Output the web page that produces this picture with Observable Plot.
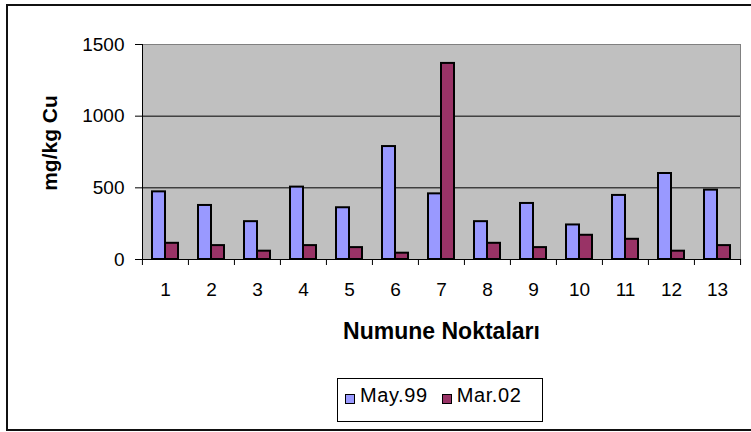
<!DOCTYPE html>
<html>
<head>
<meta charset="utf-8">
<script src="https://cdn.jsdelivr.net/npm/d3@7"></script>
<script src="https://cdn.jsdelivr.net/npm/@observablehq/plot@0.6"></script>
<style>
  html, body { margin: 0; padding: 0; background: #fff; }
  body { width: 751px; height: 432px; overflow: hidden; position: relative; font-family: "Liberation Sans", Arial, sans-serif; }
  #box { position: absolute; left: 6px; top: 4px; width: 780px; height: 423px; border: 2px solid #111; }
  #chart svg { display: block; }
  #legend { margin-left: 329px; margin-top: 18px; width: 206px; height: 44px; box-sizing: border-box; border: 1px solid #000; background: #fff;
            display: flex; align-items: flex-start; padding: 5px 0 0 7px; font-size: 20px; line-height: 22px; letter-spacing: 0.6px; color: #000; }
  .item { display: flex; align-items: flex-start; margin-right: 14px; }
  .sw { width: 10px; height: 10px; box-sizing: border-box; border: 1px solid #000; margin-top: 10px; margin-right: 5px; }
</style>
</head>
<body>
<div id="box">
  <div id="chart"></div>
  <div id="legend"></div>
</div>
<script>
const categories = ["1","2","3","4","5","6","7","8","9","10","11","12","13"];
const seriesNames = ["May.99", "Mar.02"];
const may99 = [472, 377, 264, 505, 361, 788, 458, 264, 391, 241, 447, 600, 484];
const mar02 = [113, 97, 58, 97, 83, 44, 1368, 113, 83, 169, 141, 58, 97];
const seriesColors = ["#9999ff", "#993366"];
const yTicks = [0, 500, 1000, 1500];
const xTitle = "Numune Noktaları";
const yTitle = "mg/kg Cu";

const data = categories.flatMap((c, i) => [
  {cat: c, series: seriesNames[0], value: may99[i]},
  {cat: c, series: seriesNames[1], value: mar02[i]}
]);

const W = 736, H = 354, ML = 133, MR = 3, MT = 38, MB = 101;
const step = (W - ML - MR) / categories.length;

const chart = Plot.plot({
  width: W, height: H,
  marginLeft: ML, marginRight: MR, marginTop: MT, marginBottom: MB,
  style: {fontFamily: '"Liberation Sans", Arial, sans-serif', fontSize: "19px", background: "transparent", color: "#000", overflow: "visible"},
  fx: {domain: categories, padding: 0, label: null},
  x: {domain: seriesNames, paddingInner: 0, paddingOuter: 0.75, axis: null},
  y: {domain: [0, 1500], label: null, axis: null},
  color: {domain: seriesNames, range: seriesColors},
  marks: [
    Plot.frame({fill: "#c0c0c0", stroke: "#808080", facet: "super"}),
    Plot.ruleY([500, 1000], {stroke: "#000"}),
    Plot.barY(data, {fx: "cat", x: "series", y: "value", fill: "series", stroke: "#000", strokeWidth: 2}),
    Plot.frame({anchor: "left", stroke: "#000", facet: "super"}),
    Plot.frame({anchor: "bottom", stroke: "#000", facet: "super"}),
    Plot.axisY({ticks: yTicks, tickFormat: d => String(d), tickSize: 7, tickPadding: 11, label: null, fontSize: 19}),
    Plot.axisFx({anchor: "bottom", tickSize: 0, tickPadding: 23, label: null, fontSize: 19}),
    Plot.axisFx({anchor: "bottom", tickSize: 6, tickFormat: () => "", label: null, dx: -step / 2}),
    Plot.axisFx({anchor: "bottom", ticks: [categories[categories.length - 1]], tickSize: 6, tickFormat: () => "", label: null, dx: step / 2}),
    Plot.text([xTitle], {frameAnchor: "bottom", dy: 79, fontWeight: "bold", fontSize: 23, facet: "super"}),
    Plot.text([yTitle], {frameAnchor: "left", textAnchor: "middle", rotate: -90, dx: -92, dy: -9, fontWeight: "bold", fontSize: 21, facet: "super"})
  ]
});
document.getElementById("chart").appendChild(chart);

const legend = document.getElementById("legend");
seriesNames.forEach((name, i) => {
  const item = document.createElement("div");
  item.className = "item";
  const sw = document.createElement("div");
  sw.className = "sw";
  sw.style.background = seriesColors[i];
  const t = document.createElement("span");
  t.textContent = name;
  item.appendChild(sw);
  item.appendChild(t);
  legend.appendChild(item);
});
</script>
</body>
</html>
